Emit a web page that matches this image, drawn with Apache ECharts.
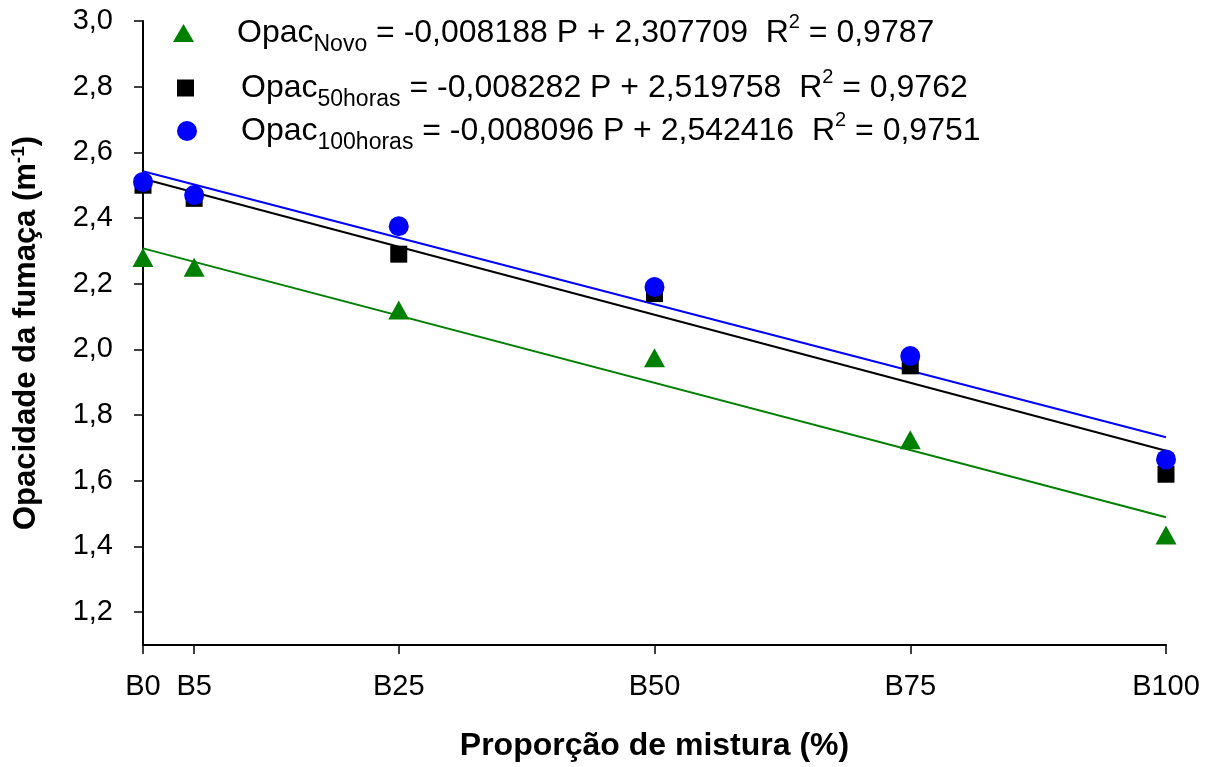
<!DOCTYPE html>
<html><head><meta charset="utf-8">
<script src="https://cdn.jsdelivr.net/npm/echarts@6/dist/echarts.min.js"></script>
<style>html,body{margin:0;padding:0;background:#fff}#c{width:1215px;height:767px}</style>
</head><body><div id="c"></div>
<script>
// Data
var xPos = [0, 5, 25, 50, 75, 100];
var xTickLabels = ['B0', 'B5', 'B25', 'B50', 'B75', 'B100'];
var yTicks = [1.2, 1.4, 1.6, 1.8, 2.0, 2.2, 2.4, 2.6, 2.8, 3.0];
var novo = [2.28, 2.25, 2.12, 1.975, 1.725, 1.435];
var h50 = [2.50, 2.46, 2.29, 2.17, 1.95, 1.62];
var h100 = [2.51, 2.47, 2.375, 2.19, 1.98, 1.665];
// trend line endpoints at P = 0 and P = 100 (from the equations shown)
var trendX = [0, 100];
var trendNovo = [2.3077, 1.4889];
var trend50 = [2.5198, 1.6915];
var trend100 = [2.5424, 1.7328];

function pts(xs, ys){ return xs.map(function(x,i){ return [x, ys[i]]; }); }

var FONT = '"Liberation Sans", Arial, sans-serif';
var rich = {
  m: {fontSize: 32, fontFamily: FONT, color: '#000', lineHeight: 46, verticalAlign: 'middle'},
  sub: {fontSize: 23, fontFamily: FONT, color: '#000', lineHeight: 46, verticalAlign: 'bottom'},
  sup: {fontSize: 20, fontFamily: FONT, color: '#000', lineHeight: 46, verticalAlign: 'top', padding:[2,0,0,0]}
};
var legendText = {
  'Novo': '{m|Opac}{sub|Novo}{m| = -0,008188 P + 2,307709  R}{sup|2}{m| = 0,9787}',
  '50horas': '{m|Opac}{sub|50horas}{m| = -0,008282 P + 2,519758  R}{sup|2}{m| = 0,9762}',
  '100horas': '{m|Opac}{sub|100horas}{m| = -0,008096 P + 2,542416  R}{sup|2}{m| = 0,9751}'
};
function mkLegend(name, icon, left, top, w, h, pad){
  return {
    data: [{name: name, icon: icon}],
    left: left, top: top, itemWidth: w, itemHeight: h,
    selectedMode: false, padding: 0,
    formatter: function(n){ return legendText[n]; },
    textStyle: {rich: rich, padding: [0,0,0,pad]}
  };
}

var chart = echarts.init(document.getElementById('c'), null, {renderer: 'canvas'});
chart.setOption({
  animation: false,
  backgroundColor: '#fff',
  grid: {left: 143, right: 49, top: 21, bottom: 120, containLabel: false},
  legend: [
    mkLegend('Novo', 'triangle', 173, 10, 21, 18, 38),
    mkLegend('50horas', 'rect', 177, 65, 17, 17, 42),
    mkLegend('100horas', 'circle', 177, 108, 20, 20, 39)
  ],
  xAxis: {
    type: 'value', min: 0, max: 100,
    name: 'Proporção de mistura (%)', nameLocation: 'middle', nameGap: 85,
    nameTextStyle: {fontSize: 32, fontWeight: 'bold', fontFamily: FONT, color: '#000'},
    axisLine: {show: true, onZero: false, lineStyle: {color: '#000', width: 2}},
    axisTick: {show: true, inside: false, length: 9, customValues: xPos, lineStyle: {color: '#000', width: 1.5}},
    axisLabel: {customValues: xPos, margin: 27, fontSize: 29, fontFamily: FONT, color: '#000',
      formatter: function(v){ var i = xPos.indexOf(v); return i >= 0 ? xTickLabels[i] : ''; }},
    splitLine: {show: false}
  },
  yAxis: {
    type: 'value', min: 1.1, max: 3.0,
    name: 'Opacidade da fumaça (m{s|-1})', nameLocation: 'middle', nameGap: 100, nameRotate: 90,
    nameTextStyle: {fontSize: 31, fontWeight: 'bold', fontFamily: FONT, color: '#000',
      rich: {s: {fontSize: 19, fontWeight: 'bold', fontFamily: FONT, verticalAlign: 'top', color:'#000', lineHeight: 34}}},
    axisLine: {show: true, onZero: false, lineStyle: {color: '#000', width: 2}},
    axisTick: {show: true, inside: false, length: 9, customValues: yTicks, lineStyle: {color: '#000', width: 1.5}},
    axisLabel: {customValues: yTicks, margin: 30, fontSize: 29, fontFamily: FONT, color: '#000',
      formatter: function(v){ return v.toFixed(1).replace('.', ','); }},
    splitLine: {show: false}
  },
  series: [
    {name: 'tNovo', type: 'line', data: pts(trendX, trendNovo), symbol: 'none', z: 1,
      lineStyle: {color: '#008000', width: 2}},
    {name: 't50', type: 'line', data: pts(trendX, trend50), symbol: 'none', z: 1,
      lineStyle: {color: '#000000', width: 2}},
    {name: 't100', type: 'line', data: pts(trendX, trend100), symbol: 'none', z: 1,
      lineStyle: {color: '#0000ff', width: 2}},
    {name: 'Novo', type: 'scatter', data: pts(xPos, novo), symbol: 'triangle', symbolSize: [21, 19], z: 3,
      itemStyle: {color: '#008000', opacity: 1}},
    {name: '50horas', type: 'scatter', data: pts(xPos, h50), symbol: 'rect', symbolSize: 17, z: 4,
      itemStyle: {color: '#000000', opacity: 1}},
    {name: '100horas', type: 'scatter', data: pts(xPos, h100), symbol: 'circle', symbolSize: 20, z: 5,
      itemStyle: {color: '#0000ff', opacity: 1}}
  ]
});
</script>
</body></html>
